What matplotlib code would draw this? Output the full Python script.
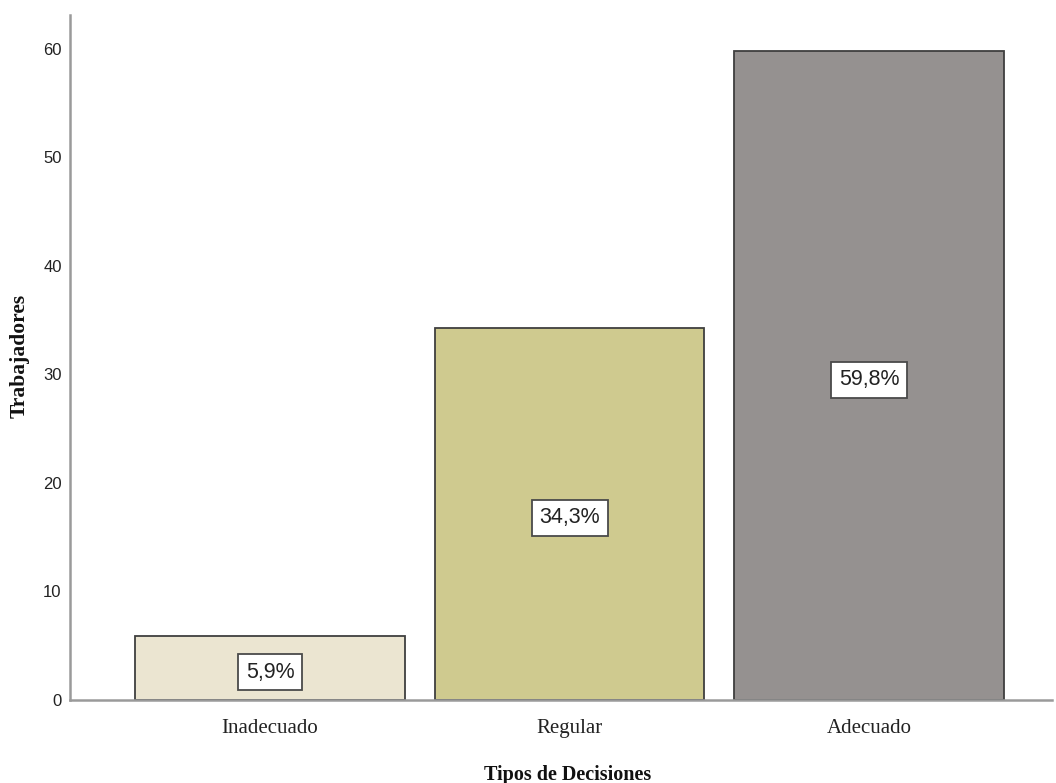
import matplotlib
matplotlib.use("Agg")
import matplotlib.pyplot as plt

categories = ["Inadecuado", "Regular", "Adecuado"]
percentages = [5.9, 34.3, 59.8]
labels = ["5,9%", "34,3%", "59,8%"]
colors = ["#EBE5D1", "#CFCA8F", "#959190"]
yticks = [0, 10, 20, 30, 40, 50, 60]

narrow = ["Liberation Sans Narrow", "Liberation Sans", "DejaVu Sans"]
serif = ["Liberation Serif", "DejaVu Serif"]

fig = plt.figure(figsize=(10.56, 7.83), dpi=100)
ax = fig.add_axes([70/1056, (783-700)/783, (1052-70)/1056, (700-15)/783])

x = list(range(len(categories)))
ax.bar(x, percentages, width=0.9, color=colors, edgecolor="#3f3f3f", linewidth=1.3, zorder=2)

for xi, v, lab in zip(x, percentages, labels):
    ax.annotate(lab, (xi, v/2), xytext=(0, -3), textcoords="offset points",
                ha="center", va="center", fontsize=15.5, family=narrow, color="#222222",
                bbox=dict(boxstyle="square,pad=0.35", fc="white", ec="#4a4a4a", lw=1.3),
                zorder=3)

ax.set_xlim(-0.668, 2.61)
ax.set_ylim(0, 63.1)
ax.set_yticks(yticks)
ax.set_yticklabels([str(t) for t in yticks], family=narrow, fontsize=12, color="#222222")
ax.set_xticks(x)
ax.set_xticklabels(categories, family=serif, fontsize=15, color="#222222")
ax.tick_params(axis="y", length=0, pad=6)
ax.tick_params(axis="x", length=0, pad=14)

for s in ["top", "right"]:
    ax.spines[s].set_visible(False)
for s in ["left", "bottom"]:
    ax.spines[s].set_color("#9a9a9a")
    ax.spines[s].set_linewidth(1.8)

fig.text(568/1056, 8/783, "Tipos de Decisiones", ha="center", va="center",
         family=serif, fontweight="bold", fontsize=14.5, color="#111111")
fig.text(20/1056, (783-356)/783, "Trabajadores", ha="center", va="center", rotation=90,
         family=serif, fontweight="bold", fontsize=15.5, color="#111111")

fig.savefig("out.png", dpi=100, facecolor="white")
